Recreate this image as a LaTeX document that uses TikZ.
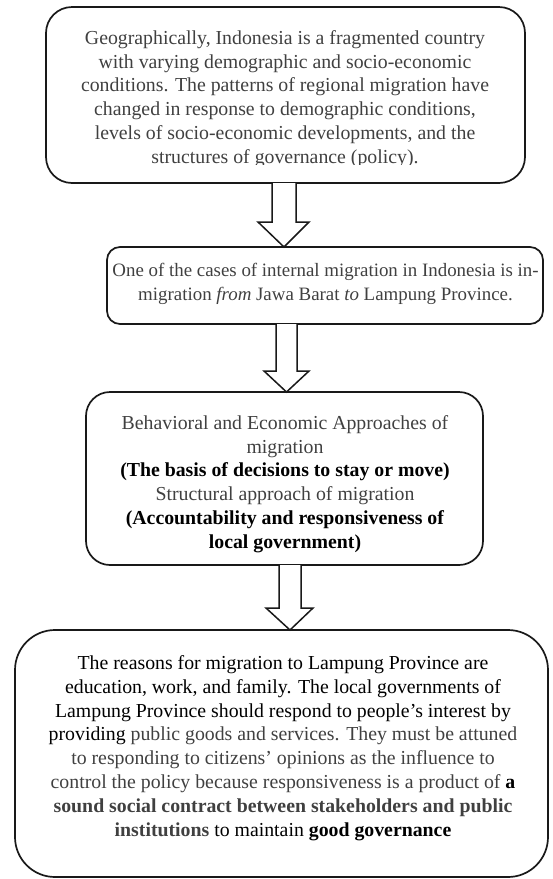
\documentclass[tikz,border=0pt]{standalone}
\usepackage{fontspec}
\setmainfont{Liberation Serif}
\definecolor{txtgray}{HTML}{404040}
\begin{document}
\begin{tikzpicture}[x=1pt,y=-1pt,
  boxshape/.style={draw=black!90, line width=1.7pt, inner sep=0pt, outer sep=0pt},
  boxtext/.style={align=center, inner sep=0pt, text=txtgray, font=\fontsize{19.8}{23.8}\selectfont},
  blockarrow/.style={draw=black!90, line width=1.5pt, fill=white, line join=miter}]
\useasboundingbox (0,0) rectangle (553,879);
% boxes
\node[boxshape, rounded corners=26pt, minimum width=479pt, minimum height=176pt] (b1) at (285.5,95) {};
\node[boxshape, rounded corners=13pt, minimum width=436pt, minimum height=77pt] (b2) at (325,285.5) {};
\node[boxshape, rounded corners=24pt, minimum width=397pt, minimum height=173pt] (b3) at (284.5,478.5) {};
\node[boxshape, rounded corners=40pt, minimum width=533pt, minimum height=247pt] (b4) at (281.5,753.5) {};
% texts
\begin{scope}
\clip (0,0) rectangle (553,164);
\node[boxtext] (t1) at (285,99) {Geographically, Indonesia is a fragmented country\\
with varying demographic and socio-economic\\
conditions. The patterns of regional migration have\\
changed in response to demographic conditions,\\
levels of socio-economic developments, and the\\
structures of governance (policy).};
\end{scope}
\node[boxtext, font=\fontsize{18.9}{23.8}\selectfont] (t2) at (325.5,284) {One of the cases of internal migration in Indonesia is in-\\
migration \textit{from} Jawa Barat \textit{to} Lampung Province.};
\node[boxtext] (t3) at (285,484) {Behavioral and Economic Approaches of\\
migration\\
\textcolor{black}{\textbf{(The basis of decisions to stay or move)}}\\
Structural approach of migration\\
\textcolor{black}{\textbf{(Accountability and responsiveness of}}\\
\textcolor{black}{\textbf{local government)}}};
\node[boxtext] (t4) at (283,748) {\textcolor{black}{The reasons for migration to Lampung Province are}\\
\textcolor{black}{education, work, and family. The local governments of}\\
\textcolor{black}{Lampung Province should respond to people’s interest by}\\
\textcolor{black}{providing} public goods and services. They must be attuned\\
to responding to citizens’ opinions as the influence to\\
control the policy because responsiveness is a product of \textcolor{black}{\textbf{a}}\\
\textbf{sound social contract between stakeholders and public}\\
\textbf{institutions} \textcolor{black}{to maintain \textbf{good governance}}};
% arrow guide coordinates
\coordinate (s1l) at (272,222); \coordinate (s1r) at (296,222); \coordinate (t1x) at (284,0);
\coordinate (s2l) at (276,371); \coordinate (s2r) at (297,371); \coordinate (t2x) at (286.5,0);
\coordinate (s3l) at (279,608); \coordinate (s3r) at (301,608); \coordinate (t3x) at (290,0);
% block arrows
\draw[blockarrow] (b1.south -| s1l) -- (s1l) -- (258,222) -- (t1x |- b2.north) -- (309,222) -- (s1r) -- (b1.south -| s1r);
\draw[blockarrow] (b2.south -| s2l) -- (s2l) -- (264,371) -- (t2x |- b3.north) -- (309,371) -- (s2r) -- (b2.south -| s2r);
\draw[blockarrow] (b3.south -| s3l) -- (s3l) -- (266,608) -- (t3x |- b4.north) -- (313,608) -- (s3r) -- (b3.south -| s3r);
\end{tikzpicture}
\end{document}
